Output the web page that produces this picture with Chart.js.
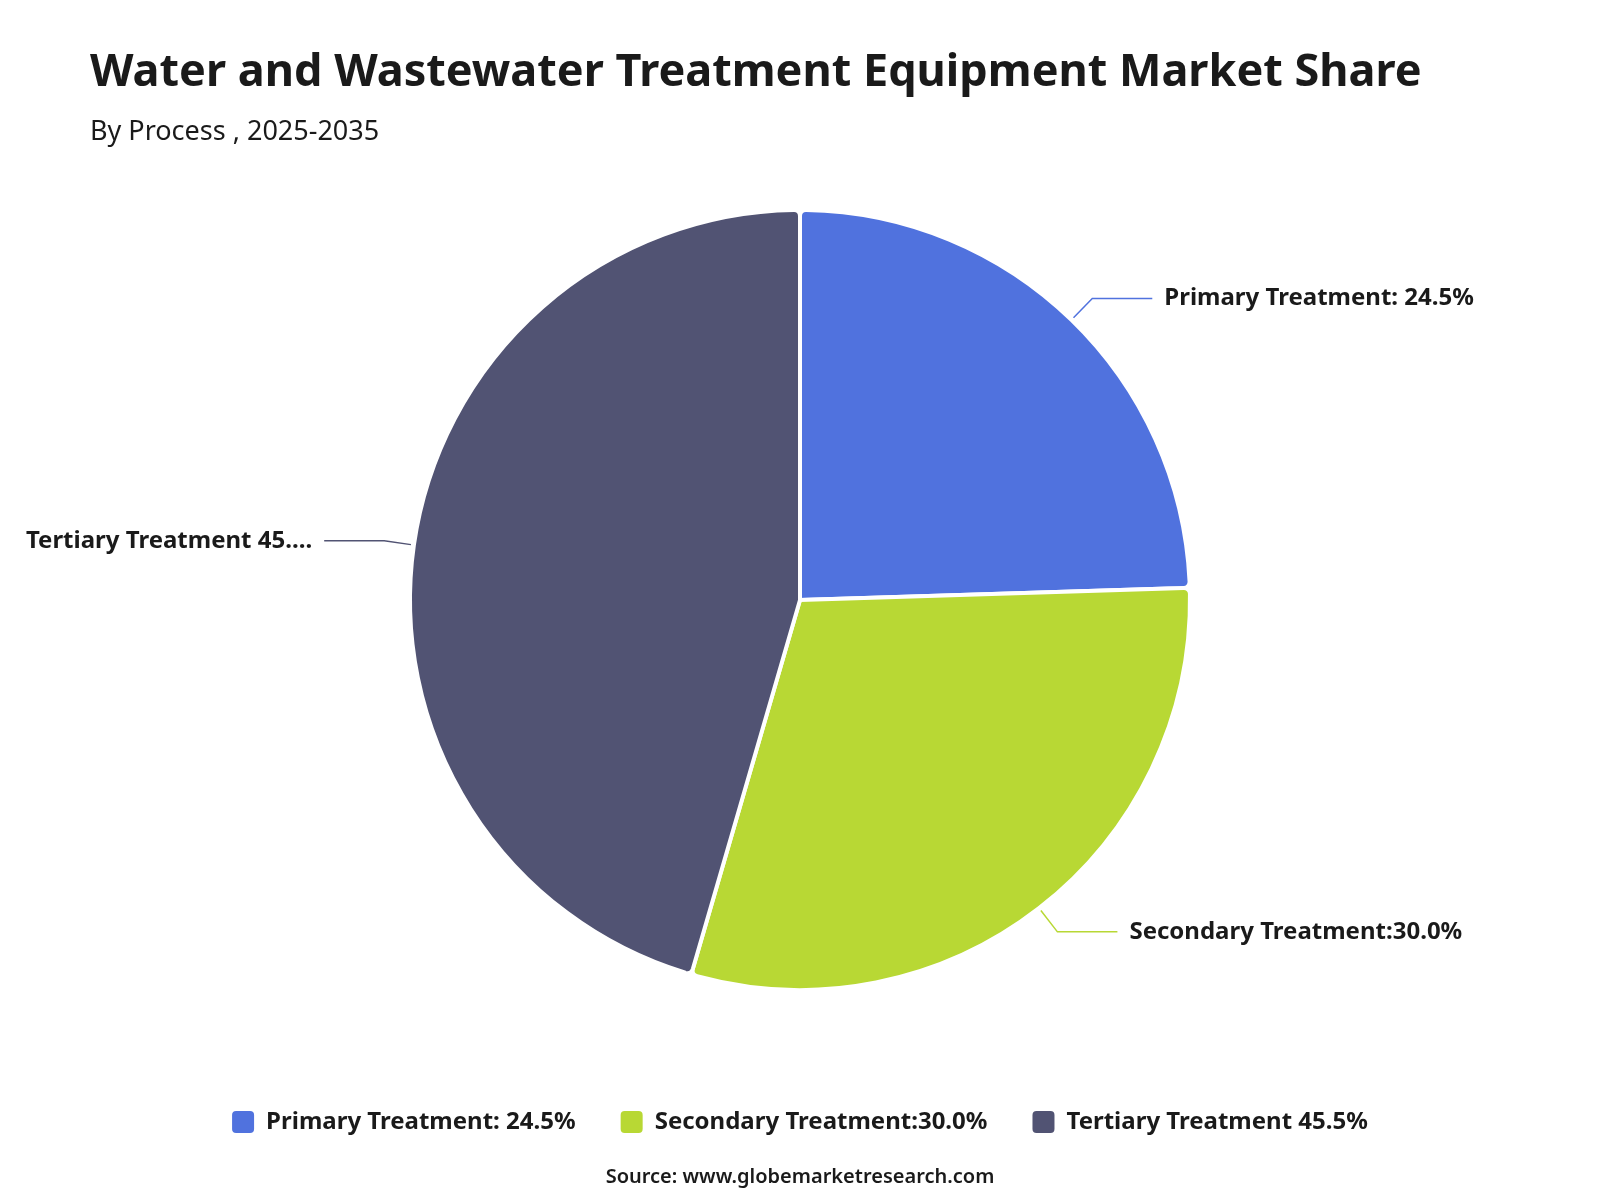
<!DOCTYPE html>
<html>
<head>
<meta charset="utf-8">
<script src="https://cdn.jsdelivr.net/npm/chart.js@4.4.1/dist/chart.umd.min.js"></script>
<style>
    body { margin: 0; background: #fff; }
    #wrap { width: 1600px; height: 1200px; }
</style>
</head>
<body>
<div id="wrap"><canvas id="shareChart"></canvas></div>
<script>
const processLabels = ['Primary Treatment: 24.5%', 'Secondary Treatment:30.0%', 'Tertiary Treatment 45.5%'];
const shareValues = [24.5, 30.0, 45.5];
const sliceColors = ['#5072de', '#b8d834', '#515373'];
const chartTitle = 'Water and Wastewater Treatment Equipment Market Share';
const chartSubtitle = 'By Process , 2025-2035';
const sourceNote = 'Source: www.globemarketresearch.com';

const fontFamily = "'Noto Sans', 'Open Sans', sans-serif";
const textColor = '#1a1a1a';

// labels outside the pie with an elbow leader line, plus the source line
const outsideLabels = {
    id: 'outsideLabels',
    afterDatasetsDraw(chart) {
        const ctx = chart.ctx;
        const meta = chart.getDatasetMeta(0);
        ctx.save();
        ctx.font = 'bold 24px ' + fontFamily;
        ctx.textBaseline = 'middle';
        meta.data.forEach((arc, i) => {
            const p = arc.getProps(['x', 'y', 'startAngle', 'endAngle', 'outerRadius'], true);
            const mid = (p.startAngle + p.endAngle) / 2;
            const cos = Math.cos(mid), sin = Math.sin(mid);
            const x0 = p.x + cos * (p.outerRadius + 3), y0 = p.y + sin * (p.outerRadius + 3);
            const x1 = p.x + cos * (p.outerRadius + 30), y1 = p.y + sin * (p.outerRadius + 30);
            const dir = cos >= 0 ? 1 : -1;
            const x2 = x1 + dir * 60;

            ctx.strokeStyle = sliceColors[i];
            ctx.lineWidth = 1.5;
            ctx.beginPath();
            ctx.moveTo(x0, y0);
            ctx.lineTo(x1, y1);
            ctx.lineTo(x2, y1);
            ctx.stroke();

            const tx = x2 + dir * 12;
            const room = dir > 0 ? chart.width - 20 - tx : tx - 25;
            let text = processLabels[i];
            if (ctx.measureText(text).width > room) {
                while (text.length && ctx.measureText(text + '...').width > room) {
                    text = text.slice(0, -1);
                }
                text += '...';
            }
            ctx.fillStyle = textColor;
            ctx.textAlign = dir > 0 ? 'left' : 'right';
            ctx.fillText(text, tx, y1);
        });

        ctx.font = '600 20px ' + fontFamily;
        ctx.textAlign = 'center';
        ctx.fillStyle = textColor;
        ctx.fillText(sourceNote, chart.width / 2, 1177);
        ctx.restore();
    }
};

const config = {
    type: 'pie',
    data: {
        labels: processLabels,
        datasets: [{
            data: shareValues,
            backgroundColor: sliceColors,
            borderColor: '#ffffff',
            borderWidth: 4,
            borderRadius: 6,
            radius: 390
        }]
    },
    options: {
        responsive: true,
        maintainAspectRatio: false,
        animation: false,
        layout: {
            padding: { top: 10, bottom: 56, left: 90, right: 90 }
        },
        plugins: {
            title: {
                display: true,
                text: chartTitle,
                align: 'start',
                color: textColor,
                font: { family: fontFamily, size: 45, weight: 'bold' },
                padding: { top: 36, bottom: 10 }
            },
            subtitle: {
                display: true,
                text: chartSubtitle,
                align: 'start',
                color: textColor,
                font: { family: fontFamily, size: 27, weight: 'normal' },
                padding: { top: 5.8, bottom: -13.2 }
            },
            legend: {
                position: 'bottom',
                labels: {
                    color: textColor,
                    font: { family: fontFamily, size: 24, weight: 'bold' },
                    boxWidth: 22,
                    boxHeight: 22,
                    useBorderRadius: true,
                    borderRadius: 4,
                    padding: 45,
                    generateLabels(chart) {
                        return Chart.overrides.pie.plugins.legend.labels.generateLabels(chart)
                            .map(item => ({ ...item, lineWidth: 0, borderRadius: 4 }));
                    }
                }
            },
            tooltip: { enabled: false }
        }
    },
    plugins: [outsideLabels]
};

const shareChart = new Chart(document.getElementById('shareChart'), config);
</script>
</body>
</html>
